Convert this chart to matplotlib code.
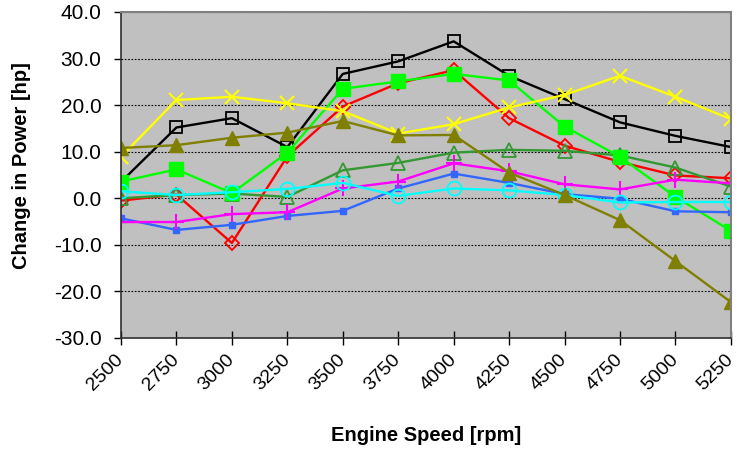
import numpy as np
import matplotlib
matplotlib.use("Agg")
import matplotlib.pyplot as plt

plt.rcParams["font.family"] = ["Liberation Sans", "DejaVu Sans"]

rpm = [2500, 2750, 3000, 3250, 3500, 3750, 4000, 4250, 4500, 4750, 5000, 5250]

black_sq = [3.5, 15.2, 17.2, 11.0, 26.7, 29.4, 33.7, 26.3, 21.3, 16.3, 13.4, 11.0]
red_dia = [-0.5, 0.8, -9.6, 9.0, 19.7, 24.7, 27.5, 17.2, 11.3, 7.8, 4.9, 4.3]
lime_sq = [3.6, 6.2, 1.1, 9.8, 23.5, 25.1, 26.7, 25.3, 15.4, 8.9, 0.3, -7.0]
yellow_x = [8.9, 21.1, 21.8, 20.4, 18.7, 13.9, 15.9, 19.5, 22.2, 26.3, 21.8, 17.0]
olive_tri = [10.8, 11.4, 13.0, 14.1, 16.6, 13.5, 13.6, 5.5, 0.7, -4.7, -13.5, -22.3]
green_tri = [0.0, 0.7, 1.0, 0.3, 6.0, 7.6, 9.8, 10.4, 10.2, 9.2, 6.6, 2.5]
magenta_plus = [-5.1, -5.1, -3.4, -3.0, 2.1, 3.6, 7.5, 5.8, 3.0, 1.9, 4.0, 3.2]
blue_sq = [-4.3, -6.8, -5.7, -3.8, -2.7, 2.1, 5.3, 3.3, 0.9, -0.1, -2.8, -3.0]
cyan_circ = [1.5, 0.7, 1.3, 2.0, 3.3, 0.5, 2.1, 1.7, 0.7, -0.9, -0.8, -0.8]

yticks = np.arange(-30, 41, 10)

fig = plt.figure(figsize=(7.39, 4.51), dpi=100)
ax = fig.add_axes([0.1637, 0.2506, 0.8254, 0.7228])
ax.set_facecolor("#C0C0C0")

lw = 1.7
ax.plot(rpm, black_sq, color="black", lw=lw, marker="s", ms=9, mfc="none", mec="black", mew=1.3)
ax.plot(rpm, red_dia, color="#FF0000", lw=lw, marker="D", ms=7, mfc="none", mec="#FF0000", mew=1.3)
ax.plot(rpm, green_tri, color="#339933", lw=lw, marker="^", ms=10, mfc="none", mec="#339933", mew=1.3)
ax.plot(rpm, lime_sq, color="#00FF00", lw=lw, marker="s", ms=10, mfc="#00FF00", mec="#00FF00")
ax.plot(rpm, yellow_x, color="#FFFF00", lw=lw, marker="x", ms=10, mew=1.5, mec="#FFFF00")
ax.plot(rpm, blue_sq, color="#3366FF", lw=lw, marker="s", ms=4, mfc="#3366FF", mec="#3366FF")
ax.plot(rpm, magenta_plus, color="#FF00FF", lw=lw, marker="+", ms=11, mew=1.5, mec="#FF00FF")
ax.plot(rpm, cyan_circ, color="#00FFFF", lw=lw, marker="o", ms=10, mfc="none", mec="#00FFFF", mew=1.3)
ax.plot(rpm, olive_tri, color="#808000", lw=lw, marker="^", ms=10, mfc="#808000", mec="#808000")

ax.set_xlim(2500, 5250)
ax.set_ylim(-30, 40)
ax.set_yticks(yticks)
ax.set_yticklabels([f"{v:.1f}" for v in yticks], fontsize=15)
ax.set_xticks(rpm)
ax.set_xticklabels([str(r) for r in rpm], fontsize=14, rotation=45,
                   ha="right", va="center", rotation_mode="anchor")

ax.yaxis.grid(True, color="black", linestyle=(0, (1.5, 1.5)), linewidth=0.8)
ax.set_axisbelow(True)

for side in ["top", "right"]:
    ax.spines[side].set_color("#808080")
    ax.spines[side].set_linewidth(1.5)
for side in ["left", "bottom"]:
    ax.spines[side].set_color("#303030")
    ax.spines[side].set_linewidth(1.2)

ax.tick_params(axis="y", direction="out", length=5, width=1, pad=9)
ax.tick_params(axis="x", direction="inout", length=10, width=1, pad=9)

ax.set_xlabel("Engine Speed [rpm]", fontsize=14.5, fontweight="bold")
ax.set_ylabel("Change in Power [hp]", fontsize=14.5, fontweight="bold")
ax.xaxis.set_label_coords(0.5, -0.27)
ax.yaxis.set_label_coords(-0.148, 0.53)

fig.savefig("out.png", dpi=100)
